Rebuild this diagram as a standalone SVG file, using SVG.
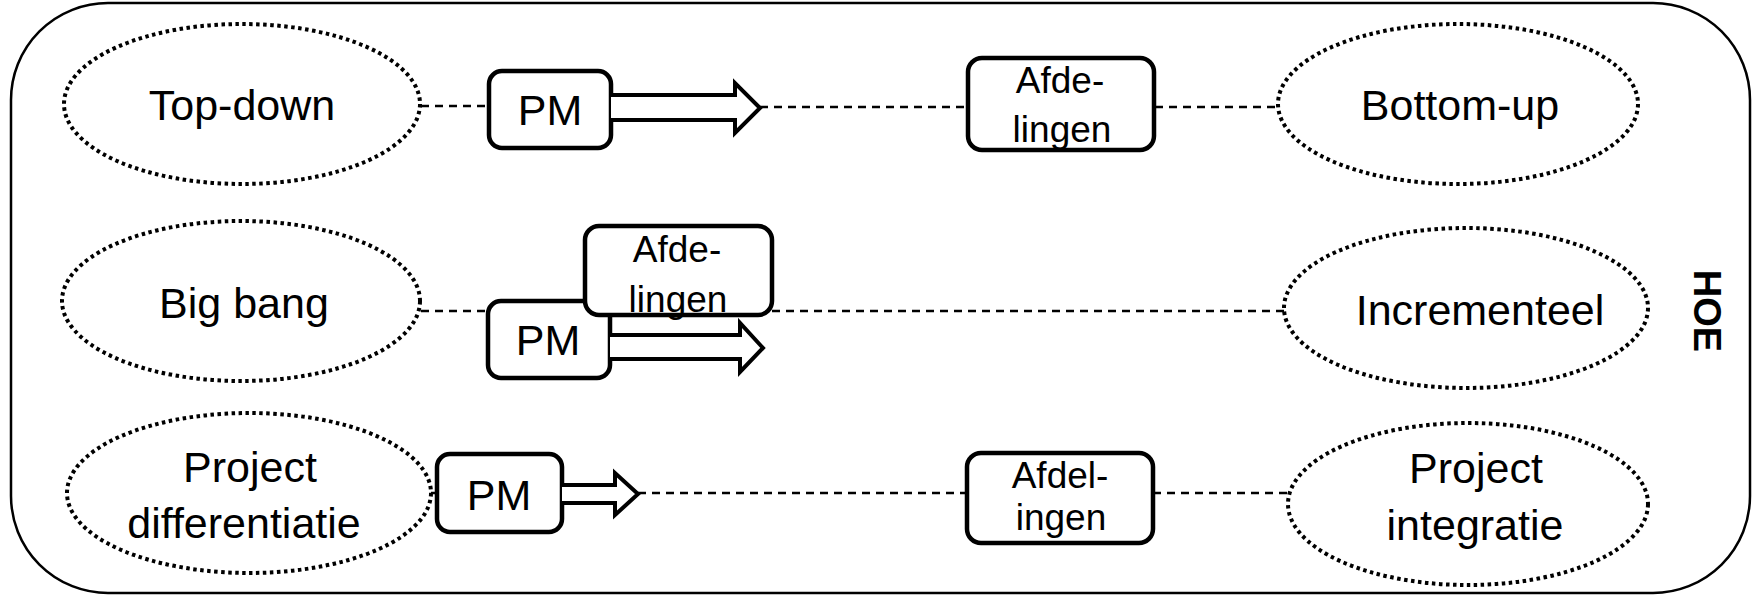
<svg xmlns="http://www.w3.org/2000/svg" width="1760" height="598" viewBox="0 0 1760 598">
<style>
.frame{fill:#fff;stroke:#000;stroke-width:2.5}
.ell{fill:#fff;stroke:#000;stroke-width:4;stroke-dasharray:3.5 3.5}
.box{fill:#fff;stroke:#000;stroke-width:4.5}
.arr{fill:#fff;stroke:#000;stroke-width:4;stroke-linejoin:miter}
.dash{fill:none;stroke:#000;stroke-width:2.5;stroke-dasharray:8 6}
.solid{fill:none;stroke:#000;stroke-width:2.5}
text{font-family:"Liberation Sans",Arial,sans-serif;fill:#000}
.big{font-size:43px;text-anchor:middle}
.mid{font-size:37px;text-anchor:middle}
.hoe{font-size:38px;font-weight:bold;text-anchor:middle}
</style>
<rect id="frame" class="frame" x="11" y="3" width="1739" height="590" rx="97" ry="97"/>
<g id="connectors">
<line class="dash" x1="421" y1="106" x2="489" y2="106"/>
<line class="dash" x1="760" y1="107" x2="968" y2="107"/>
<line class="dash" x1="1155" y1="107" x2="1278" y2="107"/>
<line class="dash" x1="421" y1="311" x2="488" y2="311"/>
<line class="dash" x1="772" y1="311" x2="1284" y2="311"/>
<line class="solid" x1="431" y1="493" x2="437" y2="493"/>
<line class="dash" x1="638" y1="493" x2="967" y2="493"/>
<line class="dash" x1="1153" y1="493" x2="1287" y2="493"/>
</g>
<g id="top-down"><ellipse class="ell" cx="242" cy="104" rx="178" ry="80"/><text class="big" x="242" y="120">Top-down</text></g>
<g id="bottom-up"><ellipse class="ell" cx="1458" cy="104" rx="180" ry="80"/><text class="big" x="1460" y="120">Bottom-up</text></g>
<g id="big-bang"><ellipse class="ell" cx="241" cy="301" rx="179" ry="80"/><text class="big" x="244" y="318">Big bang</text></g>
<g id="incrementeel"><ellipse class="ell" cx="1466" cy="308" rx="182" ry="80"/><text class="big" x="1480" y="325">Incrementeel</text></g>
<g id="project-differentiatie"><ellipse class="ell" cx="249" cy="493" rx="182" ry="80"/><text class="big" x="250" y="482">Project</text><text class="big" x="244" y="538">differentiatie</text></g>
<g id="project-integratie"><ellipse class="ell" cx="1468" cy="504" rx="180" ry="81"/><text class="big" x="1476" y="483">Project</text><text class="big" x="1475" y="540">integratie</text></g>
<g id="pm1">
<rect class="box" x="489" y="71" width="122" height="77" rx="13"/>
<text class="big" x="550" y="125">PM</text>
<path class="arr" d="M611,95 L735,95 L735,83 L760,108 L735,133 L735,120 L611,120"/>
</g>
<g id="afd1">
<rect class="box" x="968" y="58" width="186" height="92" rx="14"/>
<text class="mid" x="1060" y="93">Afde-</text>
<text class="mid" x="1062" y="142">lingen</text>
</g>
<g id="pm2">
<rect class="box" x="488" y="301" width="122" height="77" rx="13"/>
<text class="big" x="548" y="355">PM</text>
<path class="arr" d="M610,335 L740,335 L740,323 L763,348 L740,372 L740,359 L610,359"/>
</g>
<g id="afd2">
<rect class="box" x="585" y="226" width="187" height="89" rx="14"/>
<text class="mid" x="677" y="262">Afde-</text>
<text class="mid" x="678" y="312">lingen</text>
</g>
<g id="pm3">
<rect class="box" x="437" y="454" width="125" height="78" rx="13"/>
<text class="big" x="499" y="510">PM</text>
<path class="arr" d="M562,485 L615,485 L615,473 L638,494 L615,515 L615,503 L562,503"/>
</g>
<g id="afd3">
<rect class="box" x="967" y="453" width="186" height="90" rx="14"/>
<text class="mid" x="1060" y="488">Afdel-</text>
<text class="mid" x="1061" y="530">ingen</text>
</g>
<g id="hoe"><text class="hoe" transform="translate(1694,311) rotate(90)">HOE</text></g>
</svg>
